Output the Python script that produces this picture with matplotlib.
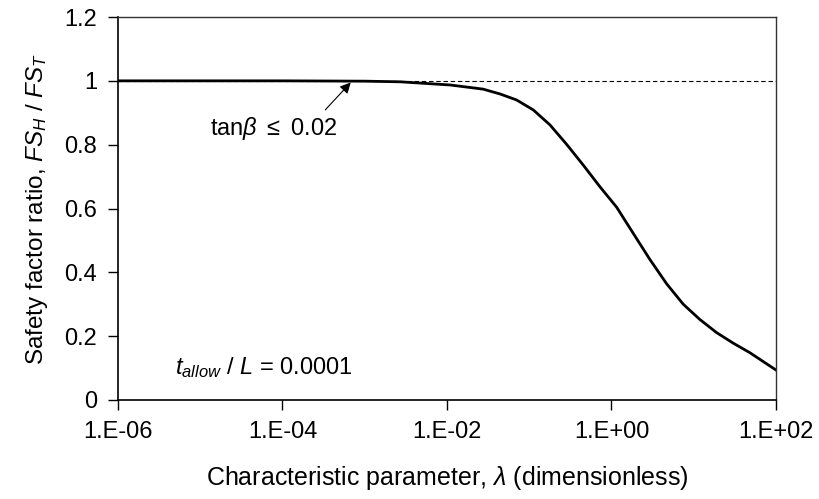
import matplotlib
matplotlib.use("Agg")
import matplotlib.pyplot as plt
from matplotlib.ticker import FixedLocator, FuncFormatter, NullLocator
import numpy as np

plt.rcParams['font.family'] = ['Liberation Sans', 'DejaVu Sans']
plt.rcParams['mathtext.fontset'] = 'custom'
plt.rcParams['mathtext.rm'] = 'Liberation Sans'
plt.rcParams['mathtext.it'] = 'Liberation Sans:italic'

# curve: log10(lambda) vs FS_H / FS_T
log_lam = [-6.0, -5.0, -4.0, -3.0, -2.57, -1.96, -1.56, -1.356, -1.153, -0.951,
           -0.748, -0.545, -0.343, -0.14, 0.063, 0.265, 0.468, 0.671, 0.873,
           1.076, 1.279, 1.481, 1.684, 2.0]
fs_ratio = [1.0, 1.0, 1.0, 0.999, 0.997, 0.987, 0.974, 0.959, 0.940, 0.909,
            0.862, 0.801, 0.736, 0.668, 0.604, 0.522, 0.440, 0.364, 0.300,
            0.252, 0.211, 0.178, 0.148, 0.094]

x_ticks = [1e-6, 1e-4, 1e-2, 1e0, 1e2]
y_ticks = [0, 0.2, 0.4, 0.6, 0.8, 1, 1.2]

lam = 10.0 ** np.array(log_lam)

fig = plt.figure(figsize=(8.2, 4.99), dpi=100)
ax = fig.add_axes([0.1439, 0.1984, 0.8024, 0.7675])

ax.axhline(1.0, color='black', lw=0.8, ls=(0, (4, 2.5)))
ax.plot(lam, fs_ratio, color='black', lw=2.0, solid_joinstyle='round')

ax.set_xscale('log')
ax.set_xlim(1e-6, 1e2)
ax.set_ylim(0, 1.2)
ax.xaxis.set_major_locator(FixedLocator(x_ticks))
ax.xaxis.set_minor_locator(NullLocator())
ax.xaxis.set_major_formatter(FuncFormatter(lambda v, p: "1.E%+03d" % int(round(np.log10(v)))))
ax.set_yticks(y_ticks)
ax.set_yticklabels(['0', '0.2', '0.4', '0.6', '0.8', '1', '1.2'])

ax.tick_params(direction='out', length=7, width=1, labelsize=17, pad=8)
for s in ['left', 'bottom']:
    ax.spines[s].set_linewidth(1.2)
for s in ['top', 'right']:
    ax.spines[s].set_linewidth(1.0)
    ax.spines[s].set_color('#333333')

ax.set_xlabel(r'Characteristic parameter, $\lambda$ (dimensionless)', fontsize=18, labelpad=15)
ax.set_ylabel(r'Safety factor ratio, $\mathit{FS}_H$ / $\mathit{FS}_T$', fontsize=17.5, labelpad=10)

ax.annotate('', xy=(10 ** -3.17, 0.995), xytext=(10 ** -3.48, 0.909),
            arrowprops=dict(arrowstyle='-|>', color='black', lw=0.8,
                            shrinkA=0, shrinkB=0, mutation_scale=16))
ax.text(1.3e-5, 0.852, r'tan$\beta$ $\leq$ 0.02', fontsize=17, va='center', ha='left')
ax.text(4.9e-6, 0.103, r'$t_{allow}$ / $L$ = 0.0001', fontsize=17, va='center', ha='left')

fig.savefig('out.png', dpi=100)
